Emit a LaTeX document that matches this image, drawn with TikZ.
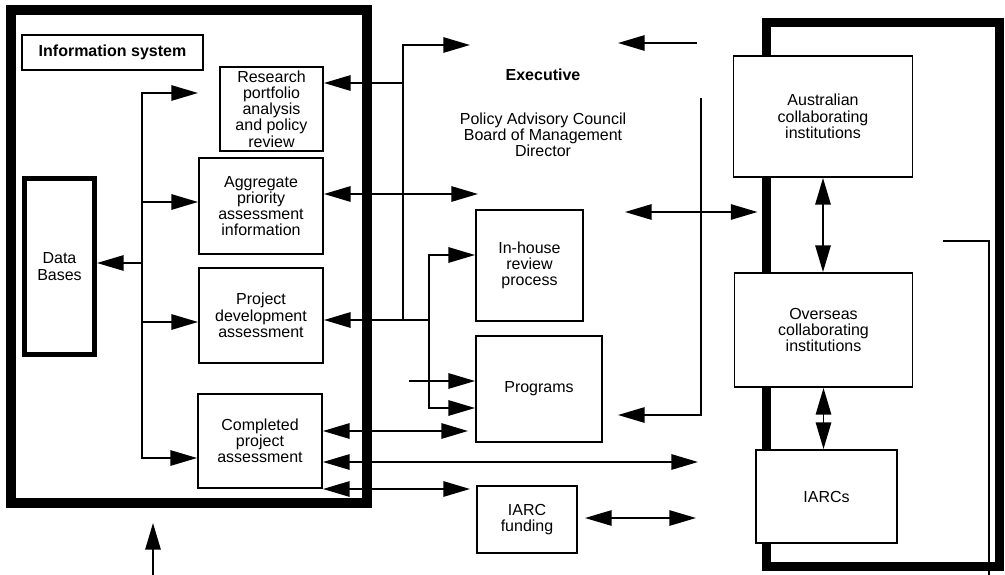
\documentclass[tikz,border=0pt]{standalone}
\usepackage{fontspec}
\setmainfont{Liberation Sans}
\usetikzlibrary{arrows.meta}
\begin{document}
\begin{tikzpicture}[x=0.75pt,y=-0.75pt,
  every node/.style={font=\fontsize{12}{12.2}\selectfont, align=center, inner sep=0pt},
  box/.style={draw, line width=1.4pt, fill=white},
  bigbox/.style={draw, line width=7pt},
  ln/.style={line width=1.4pt, line cap=rect},
  arr/.style={ln, -{Triangle[length=20pt,width=11.5pt]}},
  darr/.style={ln, {Triangle[length=20pt,width=11.5pt]}-{Triangle[length=20pt,width=11.5pt]}},
  boldtext/.style={font=\bfseries\fontsize{12}{12.2}\selectfont}
]
\useasboundingbox (0,0) rectangle (1005,574);

% large frames
\node[bigbox, minimum width=267pt, minimum height=369.75pt] (leftbox) at (189,256.5) {};
\node[bigbox, line width=6.75pt, minimum width=174.75pt, minimum height=407.25pt] (rightbox) at (882.5,294.5) {};

% boxes
\node[box, boldtext, minimum width=135.75pt, minimum height=26.25pt] (infosys) at (112.5,52.5) {Information system};
\node[box, minimum width=77.25pt, minimum height=63pt] (research) at (271.5,109) {Research\\portfolio\\analysis\\and policy\\review};
\node[box, minimum width=93pt, minimum height=72pt] (aggregate) at (261,206) {Aggregate\\priority\\assessment\\information};
\node[box, minimum width=93pt, minimum height=71.25pt] (project) at (261,315.5) {Project\\development\\assessment};
\node[box, minimum width=93pt, minimum height=70.5pt] (completed) at (260,441) {Completed\\project\\assessment};
\node[draw, line width=3.75pt, fill=white, minimum width=52.5pt, minimum height=132pt] (databases) at (59.5,266.5) {Data\\Bases};
\node[box, minimum width=80.25pt, minimum height=83.25pt] (inhouse) at (529.5,265.5) {In-house\\review\\process};
\node[box, minimum width=94.5pt, minimum height=79.5pt] (programs) at (539,389) {Programs};
\node[box, minimum width=75pt, minimum height=50.25pt] (iarcfund) at (527,519.5) {IARC\\funding};
\node[box, minimum width=134.25pt, minimum height=90.75pt] (australian) at (823,116.5) {Australian\\collaborating\\institutions};
\node[box, minimum width=133.5pt, minimum height=85.5pt] (overseas) at (823.5,330) {Overseas\\collaborating\\institutions};
\node[box, minimum width=105.75pt, minimum height=69.75pt] (iarcs) at (826.5,496.5) {IARCs};

\node[boldtext] (exec) at (543,75) {Executive};
\node (policy) at (543,135) {Policy Advisory Council\\Board of Management\\Director};

% left tree inside information system
\coordinate (j1) at (142,93);
\coordinate (j2) at (142,202);
\coordinate (j3) at (142,263);
\coordinate (j4) at (142,322);
\coordinate (j5) at (142,458);
\coordinate (rtip) at (198,93);
\draw[arr] (j5) -- (j1) -- (rtip);
\draw[arr] (j2) -- (j2 -| aggregate.west);
\draw[arr] (j3) -- (j3 -| databases.east);
\draw[arr] (j4) -- (j4 -| project.west);
\draw[arr] (j5) -- (j5 -| completed.west);

% connectors right of the information system
\coordinate (k0) at (403,45);
\coordinate (k1) at (403,83);
\coordinate (k2) at (403,320);
\coordinate (k3) at (429,320);
\coordinate (k4) at (429,255);
\coordinate (k5) at (429,408);
\coordinate (etip) at (470,45);
\draw[arr] (k2) -- (k0) -- (etip);
\draw[arr] (k1) -- (k1 -| research.east);
\draw[arr] (k3) -- (k3 -| project.east);
\draw[arr] (k5) -- (k4) -- (k4 -| inhouse.west);
\draw[arr] (k4) -- (k5) -- (k5 -| programs.west);

\coordinate (a1) at (478,194);
\draw[darr] (a1 -| aggregate.east) -- (a1);
\coordinate (s1) at (410,381);
\draw[arr] (s1) -- (s1 -| programs.west);

\coordinate (c1) at (468,431);
\coordinate (c2) at (698,462);
\coordinate (c3) at (470,489);
\draw[darr] (c1 -| completed.east) -- (c1);
\draw[darr] (c2 -| completed.east) -- (c2);
\draw[darr] (c3 -| completed.east) -- (c3);

% middle right
\coordinate (e1) at (696,43);
\coordinate (e2) at (618,43);
\draw[arr] (e1) -- (e2);
\coordinate (d1) at (625,212);
\draw[darr, shorten >=3pt] (d1) -- (d1 -| rightbox.west);
\coordinate (v1) at (701,99);
\coordinate (v2) at (701,415);
\coordinate (ptip) at (618,415);
\draw[arr] (v1) -- (v2) -- (ptip);
\coordinate (f0) at (585,518);
\coordinate (f1) at (696,518);
\draw[darr] (f0) -- (f1);

% right frame
\draw[darr] (australian.south) -- (australian.south |- overseas.north);
\draw[darr] (overseas.south) -- (overseas.south |- iarcs.north);
\coordinate (g1) at (944,241);
\coordinate (g2) at (989,241);
\coordinate (g3) at (989,574);
\draw[ln] (g1) -- (g2) -- (g3);

% bottom arrow
\coordinate (b0) at (153,574);
\coordinate (b1) at (153,523);
\draw[arr] (b0) -- (b1);
\end{tikzpicture}
\end{document}
